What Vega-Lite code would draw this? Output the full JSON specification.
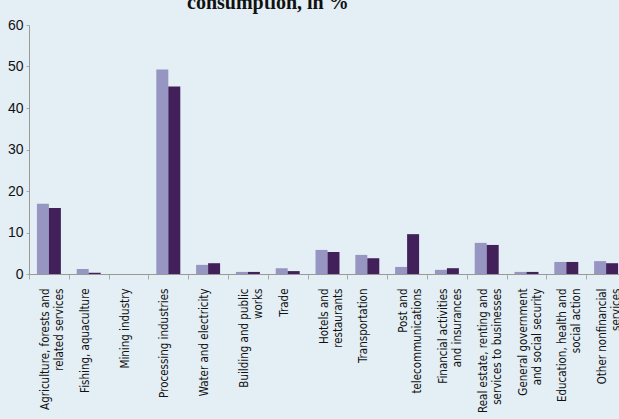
{
  "$schema": "https://vega.github.io/schema/vega-lite/v6.json",
  "autosize": {"type": "none"},
  "padding": {"left": 29, "top": 25, "right": 0, "bottom": 145},
  "width": 590,
  "height": 249,
  "background": "#E3EEF5",
  "title": {
    "text": "consumption, in %",
    "anchor": "start",
    "frame": "group",
    "dx": 158,
    "dy": 19,
    "offset": 8,
    "baseline": "alphabetic",
    "font": "Liberation Serif",
    "fontSize": 20,
    "fontWeight": "bold",
    "color": "#111111"
  },
  "config": {
    "view": {"stroke": null},
    "axis": {"grid": false, "domainColor": "#999999", "tickColor": "#AAAAAA", "labelColor": "#111111"}
  },
  "data": {
    "values": [
      {"cat": "Agriculture, forests and|related services", "series": "Series 1", "value": 16.9},
      {"cat": "Agriculture, forests and|related services", "series": "Series 2", "value": 15.9},
      {"cat": "Fishing, aquaculture", "series": "Series 1", "value": 1.2},
      {"cat": "Fishing, aquaculture", "series": "Series 2", "value": 0.3},
      {"cat": "Mining industry", "series": "Series 1", "value": 0},
      {"cat": "Mining industry", "series": "Series 2", "value": 0},
      {"cat": "Processing industries", "series": "Series 1", "value": 49.3},
      {"cat": "Processing industries", "series": "Series 2", "value": 45.2},
      {"cat": "Water and electricity", "series": "Series 1", "value": 2.2},
      {"cat": "Water and electricity", "series": "Series 2", "value": 2.6},
      {"cat": "Building and public|works", "series": "Series 1", "value": 0.5},
      {"cat": "Building and public|works", "series": "Series 2", "value": 0.5},
      {"cat": "Trade", "series": "Series 1", "value": 1.4},
      {"cat": "Trade", "series": "Series 2", "value": 0.7},
      {"cat": "Hotels and|restaurants", "series": "Series 1", "value": 5.8},
      {"cat": "Hotels and|restaurants", "series": "Series 2", "value": 5.3},
      {"cat": "Transportation", "series": "Series 1", "value": 4.6},
      {"cat": "Transportation", "series": "Series 2", "value": 3.8},
      {"cat": "Post and|telecommunications", "series": "Series 1", "value": 1.7},
      {"cat": "Post and|telecommunications", "series": "Series 2", "value": 9.6},
      {"cat": "Financial activities|and insurances", "series": "Series 1", "value": 1.0},
      {"cat": "Financial activities|and insurances", "series": "Series 2", "value": 1.4},
      {"cat": "Real estate, renting and|services to businesses", "series": "Series 1", "value": 7.5},
      {"cat": "Real estate, renting and|services to businesses", "series": "Series 2", "value": 7.0},
      {"cat": "General government|and social security", "series": "Series 1", "value": 0.5},
      {"cat": "General government|and social security", "series": "Series 2", "value": 0.5},
      {"cat": "Education, health and|social action", "series": "Series 1", "value": 2.9},
      {"cat": "Education, health and|social action", "series": "Series 2", "value": 2.9},
      {"cat": "Other nonfinancial|services", "series": "Series 1", "value": 3.1},
      {"cat": "Other nonfinancial|services", "series": "Series 2", "value": 2.6}
    ]
  },
  "mark": {"type": "bar"},
  "encoding": {
    "x": {
      "field": "cat",
      "type": "nominal",
      "sort": null,
      "scale": {"range": [0, 597], "paddingInner": 0, "paddingOuter": 0},
      "axis": {
        "title": null,
        "labelExpr": "split(datum.label, '|')",
        "labelAngle": 270,
        "labelAlign": "right",
        "labelBaseline": "middle",
        "labelFont": "DejaVu Sans Condensed, Liberation Sans",
        "labelFontSize": 11.5,
        "labelLineHeight": 14,
        "labelPadding": 9,
        "labelOffset": -3.5,
        "tickSize": 5,
        "tickBand": "extent",
        "labelOverlap": false,
        "labelLimit": 200
      }
    },
    "xOffset": {
      "field": "series",
      "type": "nominal",
      "scale": {"paddingInner": 0, "paddingOuter": 0.66}
    },
    "y": {
      "field": "value",
      "type": "quantitative",
      "scale": {"domain": [0, 60], "nice": false},
      "axis": {
        "title": null,
        "values": [0, 10, 20, 30, 40, 50, 60],
        "labelFont": "Liberation Sans",
        "labelFontSize": 14,
        "tickSize": 3,
        "labelPadding": 3
      }
    },
    "color": {
      "field": "series",
      "type": "nominal",
      "scale": {"range": ["#9795C1", "#42215A"]},
      "legend": null
    }
  }
}
